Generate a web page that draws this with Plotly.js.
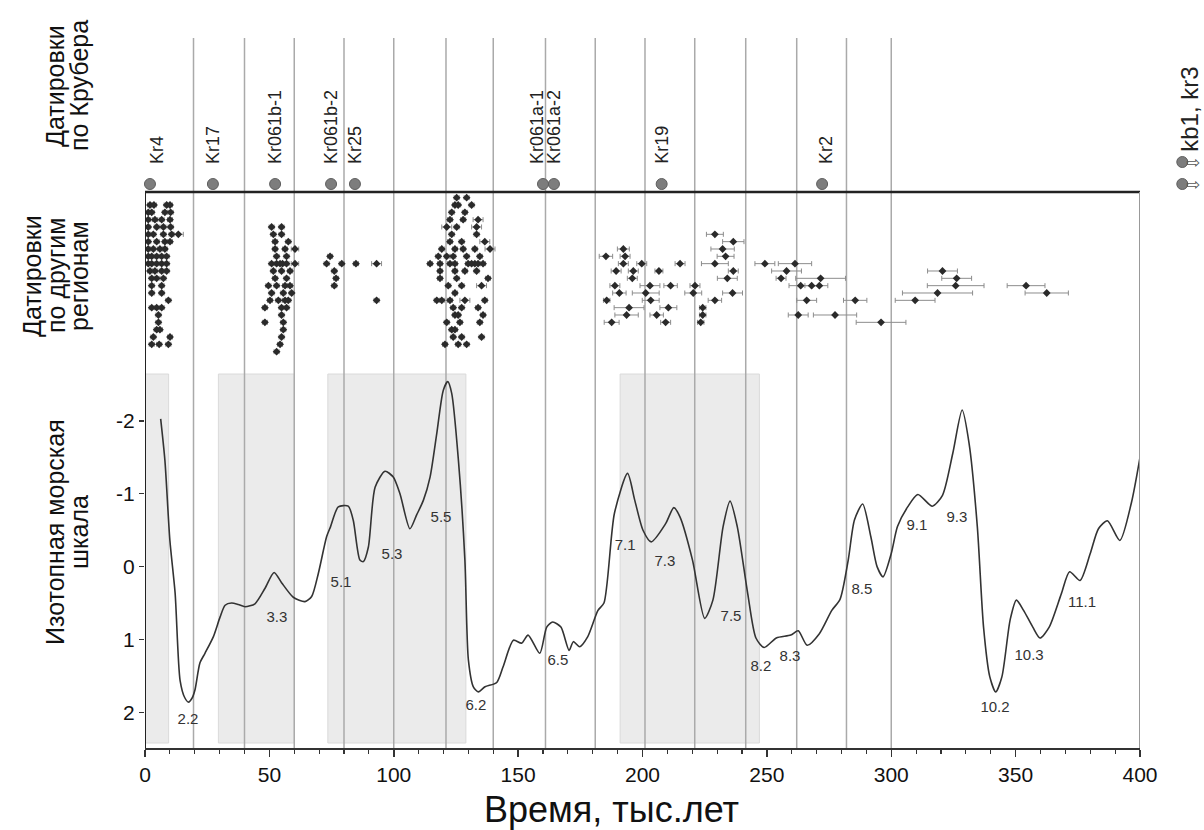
<!DOCTYPE html>
<html>
<head>
<meta charset="utf-8">
<script src="https://cdn.plot.ly/plotly-3.0.1.min.js"></script>
<style>html,body{margin:0;padding:0;background:#fff;}#chart{width:1204px;height:830px;}</style>
</head>
<body>
<div id="chart"></div>
<script>
// ---------------- DATA ----------------
// Marine isotope curve (age, ka ; value)
const isoAge = [6.3,8.0,10.0,12.1,14.1,16.0,17.5,19.0,20.1,22.1,24.1,27.5,30.2,32.2,34.8,37.5,40.2,44.2,48.2,51.9,54.9,59.6,64.3,67.0,69.7,73.0,74.6,77.7,81.7,83.7,86.4,87.8,89.8,92.5,96.5,99.8,102.5,106.5,109.2,111.9,114.6,117.3,119.9,121.7,123.3,126.0,128.6,130.0,132.0,134.0,136.7,141.4,144.0,148.1,151.4,154.0,158.7,161.5,163.9,167.2,170.5,172.2,174.7,178.0,182.1,184.5,188.7,194.0,196.9,200.2,203.5,209.3,212.6,215.1,220.1,225.0,228.3,232.4,235.2,238.1,242.3,245.6,248.9,253.8,259.6,262.6,266.2,271.1,276.1,279.4,282.7,285.2,288.5,291.8,294.3,296.7,300.0,302.5,306.6,310.7,316.5,320.6,324.7,328.5,331.3,334.6,337.1,339.6,342.0,344.5,347.8,350.3,353.2,356.9,359.8,363.5,368.4,371.7,375.9,380.0,383.3,386.9,391.9,396.5,400.0];
const isoValue = [-2.03,-1.46,-0.36,0.36,1.56,1.80,1.86,1.80,1.69,1.32,1.19,0.96,0.69,0.53,0.50,0.52,0.55,0.51,0.30,0.08,0.22,0.42,0.48,0.41,0.09,-0.41,-0.55,-0.82,-0.83,-0.64,-0.09,-0.07,-0.27,-1.09,-1.31,-1.23,-1.00,-0.52,-0.71,-0.91,-1.23,-1.83,-2.42,-2.54,-2.38,-1.46,-0.09,1.28,1.65,1.72,1.65,1.59,1.37,1.01,1.05,0.94,1.19,0.83,0.76,0.83,1.15,1.03,1.10,0.96,0.60,0.50,-0.73,-1.28,-0.91,-0.50,-0.34,-0.59,-0.81,-0.68,-0.09,0.71,0.46,-0.55,-0.90,-0.55,0.37,0.98,1.11,0.98,0.94,0.88,1.08,0.92,0.60,0.45,-0.09,-0.64,-0.86,-0.41,0.00,0.14,-0.18,-0.55,-0.82,-0.99,-0.83,-0.98,-1.55,-2.15,-1.69,-0.55,0.83,1.51,1.72,1.51,0.73,0.46,0.60,0.83,0.98,0.83,0.37,0.07,0.19,-0.18,-0.52,-0.63,-0.36,-0.87,-1.50];

// Marine isotope stage labels
const misLabels = ['2.2','3.3','5.1','5.3','5.5','6.2','6.5','7.1','7.3','7.5','8.2','8.3','8.5','9.1','9.3','10.2','10.3','11.1'];
const misAge    = [17.3,53,78.8,99.3,119,133,166,193,209,235.6,247.6,259.3,288.2,310.3,326.4,341.7,355.4,376.7];
const misValue  = [2.11,0.71,0.23,-0.16,-0.66,1.91,1.30,-0.28,-0.06,0.69,1.38,1.24,0.32,-0.56,-0.67,1.94,1.23,0.50];

// Shaded intervals (ka)
const shadeStart = [0, 29.5, 73.5, 191];
const shadeEnd   = [9.5, 60, 129, 247];

// Vertical boundary lines (ka)
const boundaryAges = [19.5,40,60,80,100,121,140,161,181,201,221,241.5,262,282,300];

// Krubera datings
const kruberNames = ['Kr4','Kr17','Kr061b-1','Kr061b-2','Kr25','Kr061a-1','Kr061a-2','Kr19','Kr2'];
const kruberAges  = [2.0,27.3,52.3,74.8,84.4,160.0,164.4,207.7,272.2];
// beyond the axis (older than 400 ka)
const kbNames  = ['kb1','kr3'];
const kbAges   = [417,417];
const kbLevels = [1,0];
const kbLabel  = 'kb1, kr3';

// Datings from other regions: age (ka), row in the stack, age error (ka)
const otherAge = [
 2.0,3.6,8.7,10.05, 1.3,2.7,8.0,10.3, 1.3,4.0,6.7,10.05, 1.3,4.7,7.4,10.3, 1.3,3.35,7.4,10.7,13.4,
 1.3,4.7,8.0,10.05, 1.3,3.35,6.0,8.0, 1.3,2.7,4.7,6.7,8.7, 1.3,2.7,4.7,6.7,8.7, 2.0,4.0,6.7,8.7,
 2.7,4.7,7.4, 2.7,6.7, 2.7,6.7, 9.4, 2.7,4.7,6.7, 5.4, 5.4, 4.7,6.0, 3.35,10.05, 2.7,5.7,9.4,
 50.9,54.9, 51.6,54.9, 52.3,57.6, 52.3,56.3,60.3, 52.9,56.9, 50.9,52.9,54.3,55.3,56.9,60.3,
 51.6,54.9,58.3, 52.3,56.9, 49.6,52.9,56.3,58.3, 50.9,55.6,58.96, 50.25,53.6,56.3,57.6,
 48.2,54.9,56.9, 54.9, 48.2,55.6, 55.6, 54.9, 54.3, 52.9,
 74.4, 73.0,79.1,84.8,93.1, 76.1, 76.8, 76.1, 93.1,
 125.3,129.3, 124.6,125.9,131.3, 123.3,128.6, 122.6,127.9,133.9, 121.3,125.3,133.3, 123.3,133.3,
 122.6,127.3,136.6, 119.3,124.6,127.9,132.6,138.7, 117.9,121.3,123.9,129.3,134.6,
 114.6,118.6,122.6,124.6,129.9,131.3,132.6,133.9,135.9, 118.6,124.6,128.6,133.3, 118.6,125.3,137.9,
 121.9,127.3,135.3, 124.6, 117.3,119.3,122.6,128.6,136.6, 123.9,127.3,133.9, 124.6,125.9,135.9,
 121.3,126.6,134.6, 123.3,124.6, 123.9,127.3,135.3, 120.6,125.9,129.3,
 229.1,236.5,192.3,232.2,185.3,193.0,233.4,192.3,199.7,215.1,229.1,249.2,261.3,
 189.4,196.3,206.6,236.5,257.9,320.6,195.9,234.1,255.7,271.6,326.3,
 188.9,203.0,211.3,221.1,263.6,268.0,271.1,325.9,354.2,
 190.7,201.3,220.4,236.2,318.6,362.5,185.6,203.3,229.1,266.0,285.5,309.6,
 194.6,210.4,224.2,193.6,205.7,224.2,262.6,277.4,187.6,209.3,223.4,295.9
];
const otherRow = [
 0,0,0,0, 1,1,1,1, 2,2,2,2, 3,3,3,3, 4,4,4,4,4,
 5,5,5,5, 6,6,6,6, 7,7,7,7,7, 8,8,8,8,8, 9,9,9,9,
 10,10,10, 11,11, 12,12, 13, 14,14,14, 15, 16, 17,17, 18,18, 19,19,19,
 3,3, 4,4, 5,5, 6,6,6, 7,7, 8,8,8,8,8,8,
 9,9,9, 10,10, 11,11,11,11, 12,12,12, 13,13,13,13,
 14,14,14, 15, 16,16, 17, 18, 19, 20,
 7, 8,8,8,8, 9, 10, 11, 13,
 -1,-1, 0,0,0, 1,1, 2,2,2, 3,3,3, 4,4,
 5,5,5, 6,6,6,6,6, 7,7,7,7,7,
 8,8,8,8,8,8,8,8,8, 9,9,9,9, 10,10,10,
 11,11,11, 12, 13,13,13,13,13, 14,14,14, 15,15,15,
 16,16,16, 17,17, 18,18,18, 19,19,19,
 4,5,6,6,7,7,7,8,8,8,8,8,8,
 9,9,9,9,9,9,10,10,10,10,10,
 11,11,11,11,11,11,11,11,11,
 12,12,12,12,12,12,13,13,13,13,13,13,
 14,14,14,15,15,15,15,15,16,16,16,16
];
const otherErr = [
 1,1,1,1, 1,1,1,1, 1,1,1,1, 1,1,1,1, 1,1,1,1,2,
 1,1,1,1, 1,1,1,1, 1,1,1,1,1, 1,1,1,1,1, 1,1,1,1,
 1,1,1, 1,1, 1,1, 1, 1,1,1, 1, 1, 1,1, 1,1, 1,1,1,
 1,1, 1,1, 1,1, 1,1,1.5, 1,1, 1,1,1,1,1,1.5,
 1,1,1, 1,1, 1,1,1,1, 1,1,1, 1,1,1,1,
 1,1,1, 1, 1,1, 1, 1, 1, 1,
 1, 1,1,1,2, 1, 1, 1, 1,
 1,1, 1,1,1, 1,1, 1,1,2, 2,1,2, 1,1,
 1,1,2, 1,1,1,1,2, 1,1,1,1,1,
 1,1,1,1,1,1,1,1,1, 1,1,1,1, 1,1,1,
 1,1,2, 1, 1,1,1,2,1, 1,1,1, 1,1,1,
 1,1,1, 1,1, 1,1,1, 1,1,1,
 3.4,4.3,2.4,4.7,2.7,2.0,3.4,2.0,2.0,2.0,5.4,4.0,6.7,
 2.0,2.0,1.6,2.0,6.0,6.0,2.0,4.0,2.0,10.0,6.0,
 2.0,4.0,2.7,2.0,4.7,2.7,3.4,11.4,7.6,
 2.7,5.4,3.4,4.0,14.1,8.7,1.3,3.4,2.7,4.0,4.7,8.0,
 6.0,3.4,1.3,4.7,2.7,1.3,4.0,8.7,3.0,2.0,1.3,10.0
];

// Axis tick labels
const xTickVals = [0,50,100,150,200,250,300,350,400];
const yTickVals = [-2,-1,0,1,2];
const yTickText = ['-2','-1','0','1','2'];

// Titles
const titleKruber = ['Датировки','по Крубера'];
const titleOther  = ['Датировки','по другим','регионам'];
const titleIso    = ['Изотопная морская','шкала'];
const titleX      = 'Время, тыс.лет';

// ---------------- LAYOUT HELPERS ----------------
const FONT = 'Liberation Sans, Arial, Helvetica, sans-serif';
const W = 1204, H = 830;
const M = {l:145, r:0, t:38, b:82};
const plotW = W - M.l - M.r, plotH = H - M.t - M.b;
const axisRightPx = 1140;
const xDomEnd = (axisRightPx - M.l) / plotW;
const XMAX = 400;
const px2paperX = px => (px - M.l) / plotW;
const px2paperY = py => (H - M.b - py) / plotH;

const isoTop = px2paperY(370);
const midTop = px2paperY(192);

const labelShift = {'Kr4':7,'Kr061a-1':-6,'Kr2':4};

// ---------------- TRACES ----------------
const traces = [];
traces.push({
  x: isoAge, y: isoValue, xaxis:'x', yaxis:'y', mode:'lines', type:'scatter',
  line:{color:'#333', width:1.6, shape:'spline', smoothing:0.7}, hoverinfo:'skip'
});
traces.push({
  x: misAge, y: misValue, text: misLabels, mode:'text', type:'scatter', xaxis:'x', yaxis:'y',
  textfont:{family:FONT, size:15, color:'#333'}, textposition:'middle center', hoverinfo:'skip'
});
traces.push({
  x: otherAge, y: otherRow, xaxis:'x', yaxis:'y2', mode:'markers', type:'scatter',
  marker:{color:'#2a2a2a', size:6, symbol:'diamond'},
  error_x:{type:'data', array: otherErr, visible:true, color:'#8c8c8c', thickness:1, width:2.5},
  hoverinfo:'skip'
});
traces.push({
  x: kruberAges, y: kruberAges.map(() => 0), xaxis:'x2', yaxis:'y3', mode:'markers', type:'scatter',
  marker:{color:'#7d7d7d', size:11, line:{color:'#5f5f5f', width:1}}, cliponaxis:false, hoverinfo:'skip'
});
traces.push({
  x: kbAges, y: kbLevels.map(l => l*22), xaxis:'x2', yaxis:'y3', mode:'markers', type:'scatter',
  marker:{color:'#7d7d7d', size:11, line:{color:'#5f5f5f', width:1}}, cliponaxis:false, hoverinfo:'skip'
});

// ---------------- SHAPES ----------------
const shapes = [];
shadeStart.forEach((s,i) => shapes.push({
  type:'rect', xref:'x', yref:'paper', x0:s, x1:shadeEnd[i], y0:px2paperY(743), y1:px2paperY(374),
  fillcolor:'#ebebeb', line:{color:'#dadada', width:1}, layer:'below'
}));
boundaryAges.forEach(a => shapes.push({
  type:'line', xref:'x', yref:'paper', x0:a, x1:a, y0:0, y1:1,
  line:{color:'#aaaaaa', width:1.5}, layer:'below'
}));
shapes.push({type:'line', xref:'x', yref:'paper', x0:0, x1:XMAX, y0:midTop, y1:midTop, line:{color:'#222', width:2.5}, layer:'above'});
shapes.push({type:'line', xref:'x', yref:'paper', x0:0, x1:0, y0:0, y1:midTop, line:{color:'#222', width:2}, layer:'above'});
shapes.push({type:'line', xref:'x', yref:'paper', x0:XMAX, x1:XMAX, y0:0, y1:midTop, line:{color:'#999', width:2}, layer:'above'});

// ---------------- ANNOTATIONS ----------------
const annotations = [];
kruberNames.forEach((n,i) => annotations.push({
  x: kruberAges[i], y: 0, xref:'x2', yref:'y3', text:n, textangle:-90, showarrow:false,
  xanchor:'center', yanchor:'bottom', yshift:18, xshift:(labelShift[n]||0),
  font:{family:FONT, size:18, color:'#222'}
}));
annotations.push({
  x: kbAges[0], y: 22, xref:'x2', yref:'y3', text:kbLabel, textangle:-90, showarrow:false,
  xanchor:'center', yanchor:'bottom', yshift:8, xshift:7,
  font:{family:FONT, size:24, color:'#222'}
});
// hollow arrows pointing beyond 400 ka
kbAges.forEach((a,i) => annotations.push({
  x: a, y: kbLevels[i]*22, xref:'x2', yref:'y3', text:'⇨', showarrow:false,
  xanchor:'left', yanchor:'middle', xshift:2, font:{family:'DejaVu Sans', size:17, color:'#555'}
}));
function colTitle(lines, xs, cy, size){
  lines.forEach((t,i) => annotations.push({
    x: px2paperX(xs[i]), y: px2paperY(cy), xref:'paper', yref:'paper', text:t, textangle:-90,
    showarrow:false, xanchor:'center', yanchor:'middle', font:{family:FONT, size:size, color:'#111'}
  }));
}
colTitle(titleKruber, [55,79], 86, 25);
colTitle(titleOther, [32,56,79], 276, 25);
colTitle(titleIso, [55,79], 532, 25);
annotations.push({
  x: px2paperX(611), y: px2paperY(809), xref:'paper', yref:'paper', text:titleX, showarrow:false,
  xanchor:'center', yanchor:'middle', font:{family:FONT, size:36, color:'#111'}
});

// ---------------- LAYOUT ----------------
const layout = {
  width:W, height:H, margin:M, paper_bgcolor:'#fff', plot_bgcolor:'rgba(0,0,0,0)', showlegend:false,
  font:{family:FONT, color:'#111'},
  xaxis:{range:[0,XMAX], domain:[0,xDomEnd], anchor:'y', tickvals:xTickVals, ticks:'outside', ticklen:7, tickwidth:1.5,
    tickcolor:'#333', showline:true, linecolor:'#333', linewidth:2, showgrid:false, zeroline:false,
    tickfont:{family:FONT, size:21, color:'#111'},
    minor:{dtick:10, tick0:0, ticks:'outside', ticklen:4, tickwidth:1.2, tickcolor:'#333', showgrid:false}},
  xaxis2:{range:[0, XMAX/xDomEnd], domain:[0,1], anchor:'y3', visible:false, showgrid:false, zeroline:false},
  yaxis:{domain:[0,isoTop], range:[2.49,-2.70], anchor:'x', tickvals:yTickVals, ticktext:yTickText,
    ticks:'outside', ticklen:5, tickwidth:1.2, tickcolor:'#333', showline:false, showgrid:false, zeroline:false,
    tickfont:{family:FONT, size:21, color:'#111'}},
  yaxis2:{domain:[isoTop, midTop], range:[22.5,-1.77], anchor:'x', visible:false, showgrid:false, zeroline:false},
  yaxis3:{domain:[midTop, 1], range:[-8,146], anchor:'x2', visible:false, showgrid:false, zeroline:false},
  shapes:shapes, annotations:annotations
};

Plotly.newPlot('chart', traces, layout, {staticPlot:true, displayModeBar:false});
</script>
</body>
</html>
